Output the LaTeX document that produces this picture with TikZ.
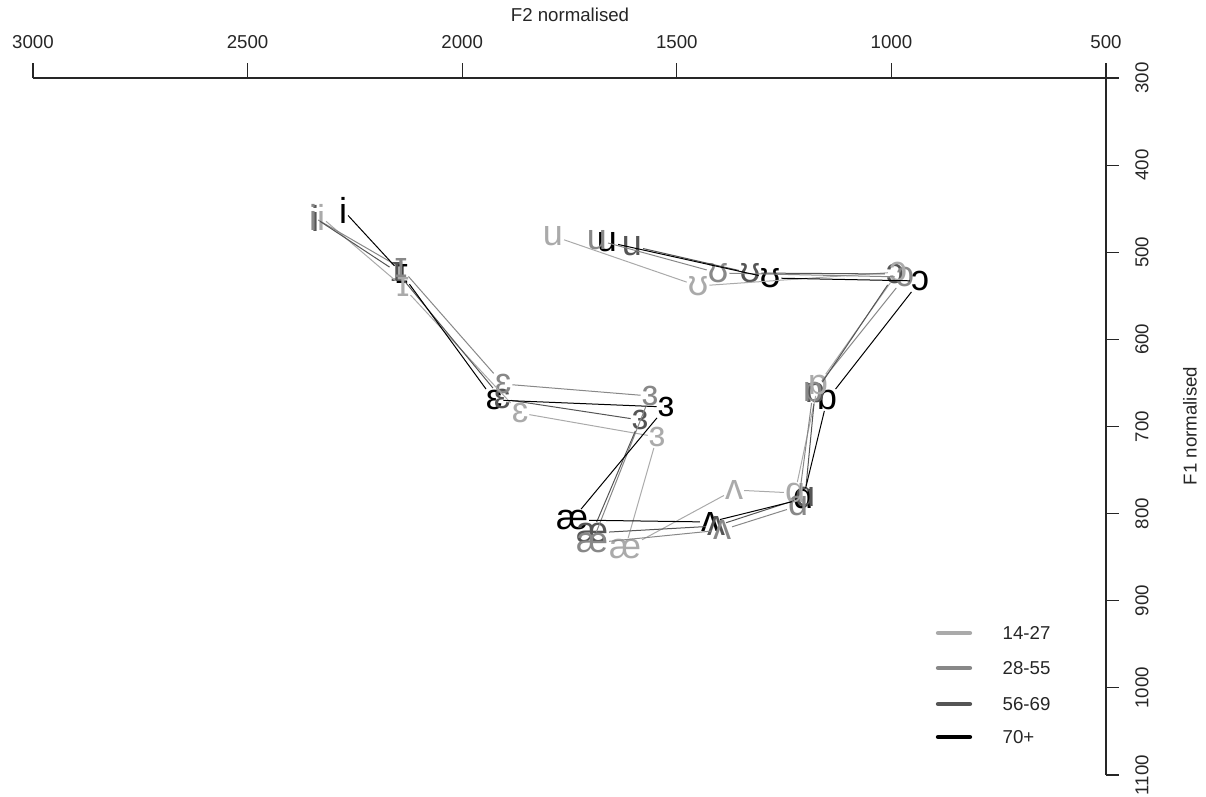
\documentclass[tikz,border=0pt]{standalone}
\usepackage{fontspec}
\setmainfont{Liberation Sans}
\definecolor{gA}{HTML}{AAAAAA}
\definecolor{gB}{HTML}{888888}
\definecolor{gC}{HTML}{555555}
\definecolor{gD}{HTML}{000000}
\tikzset{
  vw/.style={font=\fontsize{27}{27}\selectfont, inner sep=0.6pt},
  vL/.style={vw, text=gA}, vM/.style={vw, text=gB}, vD/.style={vw, text=gC}, vK/.style={vw, text=gD},
  cL/.style={draw=gA, line width=0.75pt}, cM/.style={draw=gB, line width=0.75pt},
  cD/.style={draw=gC, line width=0.75pt}, cK/.style={draw=gD, line width=0.75pt},
  axl/.style={font=\fontsize{14}{14}\selectfont, text=black!85},
  axis/.style={draw=black!85, line width=0.9pt},
  leg/.style={line width=3.2pt, line cap=round},
}
\begin{document}
\begin{tikzpicture}[x=0.75pt,y=-0.75pt]
\useasboundingbox (0,0) rectangle (1206,796);
% axes
\coordinate (ax0) at (33,78);
\coordinate (ax1) at (1106,78);
\coordinate (ay1) at (1106,775);
\draw[axis] (ax0) -- (ax1) -- (ay1);
\foreach \k/\v in {0/3000,1/2500,2/2000,3/1500,4/1000,5/500}{
  \coordinate (tx\k) at ({33+\k*214.6},78);
  \draw[axis] (tx\k) -- ++(0,-15);
  \node[axl] (lx\k) at ({33+\k*214.6},42) {\v};
}
\foreach \k/\v in {0/300,1/400,2/500,3/600,4/700,5/800,6/900,7/1000,8/1100}{
  \coordinate (ty\k) at (1106,{78+\k*87.125});
  \draw[axis] (ty\k) -- ++(13,0);
  \node[axl, rotate=90] (ly\k) at (1142,{78+\k*87.125}) {\v};
}
\node[axl] (xtitle) at (570,15) {F2 normalised};
\node[axl, rotate=90] (ytitle) at (1190,426) {F1 normalised};
% vowels: black
\node[vK] (K1) at (343,210) {i};
\node[vK] (K2) at (402,274) {ɪ};
\node[vK] (K3) at (494,400) {ɛ};
\node[vK] (K4) at (666,407) {ɜ};
\node[vK] (K5) at (572,520) {æ};
\node[vK] (K6) at (710,522) {ʌ};
\node[vK] (K7) at (803,499) {ɑ};
\node[vK] (K8) at (827,400) {ɒ};
\node[vK] (K9) at (920,281) {ɔ};
\node[vK] (K10) at (770,278) {ʊ};
\node[vK] (K11) at (607,242) {u};
% dark
\node[vD] (D1) at (315,218) {i};
\node[vD] (D2) at (397,272) {ɪ};
\node[vD] (D3) at (502,399) {ɛ};
\node[vD] (D4) at (640,420) {ɜ};
\node[vD] (D5) at (592,533) {æ};
\node[vD] (D6) at (716,526) {ʌ};
\node[vD] (D7) at (805,497) {ɑ};
\node[vD] (D8) at (815,393) {ɒ};
\node[vD] (D9) at (895,274) {ɔ};
\node[vD] (D10) at (750,273) {ʊ};
\node[vD] (D11) at (632,246) {u};
% medium
\node[vM] (M1) at (313,217) {i};
\node[vM] (M2) at (401,268) {ɪ};
\node[vM] (M3) at (503,384) {ɛ};
\node[vM] (M4) at (650,396) {ɜ};
\node[vM] (M5) at (592,543) {æ};
\node[vM] (M6) at (722,530) {ʌ};
\node[vM] (M7) at (798,506) {ɑ};
\node[vM] (M8) at (813,392) {ɒ};
\node[vM] (M9) at (905,277) {ɔ};
\node[vM] (M10) at (718,273) {ʊ};
\node[vM] (M11) at (597,240) {u};
% light
\node[vL] (L1) at (321,217) {i};
\node[vL] (L2) at (403,287) {ɪ};
\node[vL] (L3) at (520,413) {ɛ};
\node[vL] (L4) at (657,437) {ɜ};
\node[vL] (L5) at (625,549) {æ};
\node[vL] (L6) at (734,490) {ʌ};
\node[vL] (L7) at (795,493) {ɑ};
\node[vL] (L8) at (818,385) {ɒ};
\node[vL] (L9) at (898,272) {ɔ};
\node[vL] (L10) at (698,286) {ʊ};
\node[vL] (L11) at (553,236) {u};
% connectors
\path[cL] (L1) -- (L2) -- (L3) -- (L4) -- (L5) -- (L6) -- (L7) -- (L8) -- (L9) -- (L10) -- (L11);
\path[cM] (M1) -- (M2) -- (M3) -- (M4) -- (M5) -- (M6) -- (M7) -- (M8) -- (M9) -- (M10) -- (M11);
\path[cD] (D1) -- (D2) -- (D3) -- (D4) -- (D5) -- (D6) -- (D7) -- (D8) -- (D9) -- (D10) -- (D11);
\path[cK] (K1) -- (K2) -- (K3) -- (K4) -- (K5) -- (K6) -- (K7) -- (K8) -- (K9) -- (K10) -- (K11);
% legend
\foreach \n/\c/\t/\y in {1/gA/14-27/633, 2/gB/28-55/668, 3/gC/56-69/704, 4/gD/70+/737}{
  \coordinate (la\n) at (938,\y);
  \coordinate (lb\n) at (970,\y);
  \draw[leg, draw=\c] (la\n) -- (lb\n);
  \node[axl, anchor=west] (lt\n) at (998,\y) {\t};
}
\end{tikzpicture}
\end{document}
